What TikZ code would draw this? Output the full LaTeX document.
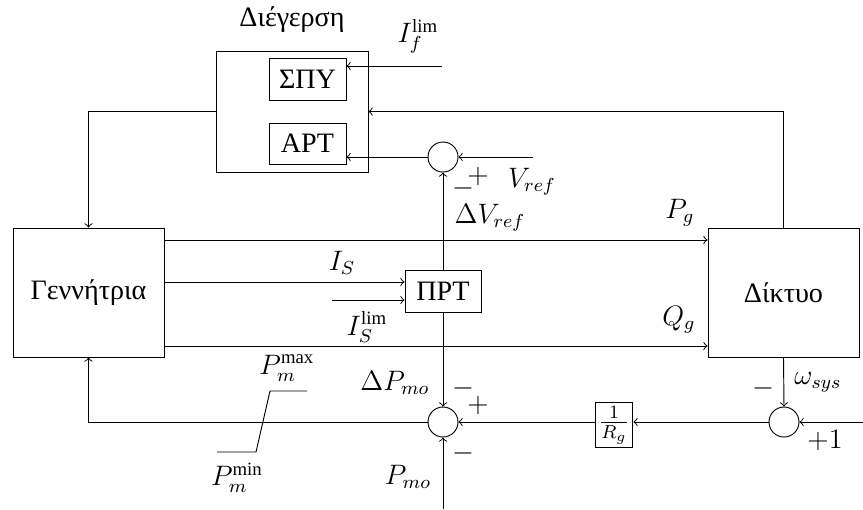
\documentclass[tikz,border=0pt]{standalone}
\usepackage{fontspec}
\setmainfont{Liberation Serif}
\begin{document}
\begin{tikzpicture}[x=0.015cm,y=-0.015cm,
  every node/.style={font=\fontsize{12}{14.4}\selectfont},
  blk/.style={draw,inner sep=0pt},
  sumc/.style={draw,circle,inner sep=0pt,minimum size=0.45cm},
  lbl/.style={inner sep=0pt},
  >=to]
\useasboundingbox (0,0) rectangle (863,509);
% blocks
\node[blk,minimum width=2.265cm,minimum height=1.935cm] (gen) at (88.5,292.5) {Γεννήτρια};
\node[blk,minimum width=2.265cm,minimum height=1.935cm] (net) at (783.5,292.5) {Δίκτυο};
\node[blk,minimum width=2.28cm,minimum height=1.815cm] (exc) at (292,111.5) {};
\node[lbl] (exct) at (292,20) {Διέγερση};
\node[blk,minimum width=1.155cm,minimum height=0.63cm] (spy) at (307.5,79) {ΣΠΥ};
\node[blk,minimum width=1.155cm,minimum height=0.615cm] (art) at (307.5,143.5) {ΑΡΤ};
\node[sumc] (s1) at (443,157) {};
\node[blk,minimum width=1.14cm,minimum height=0.63cm] (prt) at (443,291) {ΠΡΤ};
\node[sumc] (s2) at (443,422) {};
\node[sumc] (s3) at (784,422) {};
\node[blk,inner sep=1.5pt] (rg) at (614,425) {$\frac{1}{R_g}$};
% free ends
\coordinate (yPg) at (0,240);
\coordinate (yIS) at (0,282);
\coordinate (yQg) at (0,346);
\coordinate (ifl) at (442,66);
\coordinate (vref) at (533,157);
\coordinate (pmo) at (443,509);
\coordinate (one) at (863,422);
\coordinate (isl) at (332,300);
% connectors
\draw[->] (exc.west) -| (gen.north);
\draw[->] (net.north) |- (exc.east);
\draw[->] (ifl) -- (spy.east |- ifl);
\draw[->] (s1.west) -- (art.east |- s1);
\draw[->] (vref) -- (s1.east);
\draw[->] (prt.north) -- (s1.south);
\draw[->] (gen.east |- yPg) -- (net.west |- yPg);
\draw[->] (gen.east |- yIS) -- (prt.west |- yIS);
\draw[->] (isl) -- (prt.west |- isl);
\draw[->] (gen.east |- yQg) -- (net.west |- yQg);
\draw[->] (prt.south) -- (s2.north);
\draw[->] (pmo) -- (s2.south);
\draw[->] (s3.west) -- (rg.east |- s3);
\draw[->] (rg.west |- s2) -- (s2.east);
\draw[->] (net.south) -- (s3.north);
\draw[->] (one) -- (s3.east);
\draw[->] (s2.west) -- (gen.south |- s2) -- (gen.south);
% saturation
\draw (217,452) -- (256,452) -- (270,391) -- (307,391);
% labels
\node[lbl] (lifl) at (418,36) {$I_f^{\mathrm{lim}}$};
\node[lbl] (lvref) at (532,182) {$V_{ref}$};
\node[lbl] (lp1) at (478,176) {$+$};
\node[lbl] (lm1) at (463,188) {$-$};
\node[lbl] (ldv) at (490,218) {$\Delta V_{ref}$};
\node[lbl] (lPg) at (680,213) {$P_g$};
\node[lbl] (lIS) at (342,263) {$I_S$};
\node[lbl] (lISl) at (367,327) {$I_S^{\mathrm{lim}}$};
\node[lbl] (lQg) at (679,320) {$Q_g$};
\node[lbl] (ldp) at (395,383) {$\Delta P_{mo}$};
\node[lbl] (lm2) at (463,388) {$-$};
\node[lbl] (lp2) at (478,405) {$+$};
\node[lbl] (lm3) at (463,453) {$-$};
\node[lbl] (lpmo) at (408,477) {$P_{mo}$};
\node[lbl] (lw) at (818,382) {$\omega_{sys}$};
\node[lbl] (lm4) at (763,388) {$-$};
\node[lbl] (lone) at (825,440) {$+1$};
\node[lbl] (lmax) at (287,368) {$P_m^{\mathrm{max}}$};
\node[lbl] (lmin) at (237,478) {$P_m^{\mathrm{min}}$};
\end{tikzpicture}
\end{document}
